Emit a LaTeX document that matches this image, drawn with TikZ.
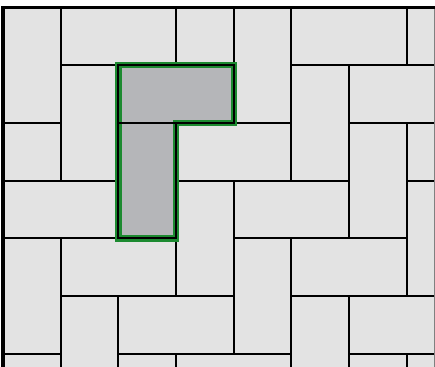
\documentclass[tikz,border=0pt]{standalone}
\usepackage{tikz}
\definecolor{tilefill}{HTML}{E3E3E3}
\definecolor{lfill}{HTML}{B5B6B9}
\definecolor{lgreen}{HTML}{1C8A30}
\tikzset{
  tile/.style={fill=tilefill, draw=black, line width=0.04cm},
  ltile/.style={fill=lfill, draw=black, line width=0.04cm},
  tileedge/.style={draw=black, line width=0.04cm},
  greenline/.style={draw=lgreen, line width=0.13cm, line join=miter},
  frameline/.style={draw=black, line width=0.075cm, line cap=rect},
  edgeline/.style={draw=gray, line width=0.02cm}
}
\begin{document}
\begin{tikzpicture}[x=0.02cm, y=-0.02cm]
\useasboundingbox (0,0) rectangle (435,367);
\fill[white] (0,0) rectangle (435,367);
\begin{scope}[shift={(0.06cm,-0.15cm)}, x=1.154cm, y=-1.154cm]
  \begin{scope}
    \clip (0,0) rectangle (7.49,6.23);
    % light tiles
    \foreach \a/\b/\c/\d in {
      0/0/1/2, 1/0/3/1, 3/-1/4/1, 4/0/5/2, 5/0/7/1, 7/-1/8/1,
      1/1/2/3, -1/2/1/3, 3/2/5/3, 5/1/6/3, 6/1/8/2, 6/2/7/4, 7/2/9/3,
      0/3/2/4, 3/3/4/5, 4/3/6/4, 7/3/8/5,
      0/4/1/6, 1/4/3/5, 4/4/5/6, 5/4/7/5,
      1/5/2/7, 2/5/4/6, 5/5/6/7, 6/5/8/6,
      -1/6/1/7, 2/6/3/8, 3/6/5/7, 6/6/7/8, 7/6/9/7}
      \path[tile] (\a,\b) rectangle (\c,\d);
    % the L piece
    \path[ltile] (2,1) rectangle (4,2);
    \path[ltile] (2,2) rectangle (3,4);
    \path[greenline] (2,1) -- (4,1) -- (4,2) -- (3,2) -- (3,4) -- (2,4) -- cycle;
    \path[tileedge] (2,1) rectangle (4,2);
    \path[tileedge] (2,2) rectangle (3,4);
    \path[edgeline] (7.48,0) -- (7.48,6.23);
  \end{scope}
  % outer frame, top and left
  \path[frameline] (7.49,0) -- (0,0) -- (0,6.23);
\end{scope}
\end{tikzpicture}
\end{document}
